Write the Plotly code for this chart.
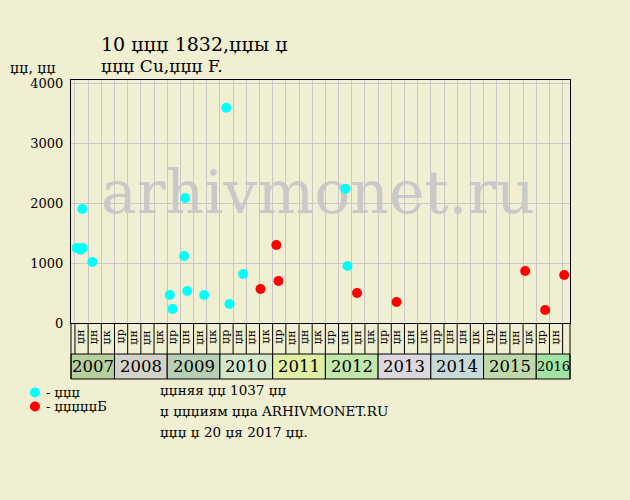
import plotly.graph_objects as go

# ---------------- data ----------------
title_line1 = "10 џџџ 1832,џџы џ"
title_line2 = "џџџ Cu,џџџ F."
y_title = "џџ, џџ"
years = ["2007", "2008", "2009", "2010", "2011", "2012", "2013", "2014", "2015", "2016"]
year_colors = ["#b6cf9c", "#d2d2ca", "#b7cfb3", "#d3e8cb", "#e0efa3", "#c2e7ab",
               "#dcd8e0", "#c8d9d9", "#bfd9ab", "#a2e2a2"]
quarter_names = ["џр", "џн", "џн", "џк"]
# quarters present: 2007 Q2 .. 2016 Q2
first_q = (2007, 2)
last_q = (2016, 2)

cyan_year = [2007.28, 2007.40, 2007.36, 2007.39, 2007.58, 2009.05, 2009.10, 2009.32,
             2009.34, 2009.38, 2009.70, 2010.12, 2010.18, 2010.44, 2012.38, 2012.42]
cyan_price = [1250, 1250, 1220, 1900, 1017, 467, 233, 1117,
              2083, 533, 467, 3588, 317, 817, 2238, 950]
red_year = [2010.77, 2011.07, 2011.11, 2012.60, 2013.35, 2015.79, 2016.17, 2016.53]
red_price = [567, 1300, 700, 500, 350, 867, 217, 800]

legend_cyan = "- џџџ"
legend_red = "- џџџџџБ"
info_lines = ["џџняя џџ 1037 џџ", "џ џџџиям џџа ARHIVMONET.RU", "џџџ џ 20 џя 2017 џџ."]
watermark = "arhivmonet.ru"

# ---------------- layout geometry ----------------
W, H = 630, 500
L, R, T, B = 71, 570, 80, 323
pw, ph = R - L, B - T
BG = "#f0efd1"
GRID = "#c8c8c8"
FONT = "DejaVu Serif"

q0 = first_q[0] + (first_q[1] - 1) / 4.0
qlist = []
y_, q_ = first_q
while (y_, q_) <= last_q:
    qlist.append((y_, q_))
    q_ += 1
    if q_ > 4:
        q_ = 1
        y_ += 1
nq = len(qlist)
xmin = q0 - 0.075
xmax = q0 + nq / 4.0 + 0.14
ymax = 4050


def px(x):
    return (x - L) / pw


def py(y):
    return (B - y) / ph


def xdata_to_paper(x):
    return (x - xmin) / (xmax - xmin)


fig = go.Figure()

# watermark (drawn below the points)
fig.add_trace(go.Scatter(
    x=[xmin + (318 - L) / pw * (xmax - xmin)], y=[2090], mode="text",
    text=[watermark], textfont=dict(family=FONT, size=60, color="#c9c9c9"),
    hoverinfo="skip", showlegend=False))

fig.add_trace(go.Scatter(x=cyan_year, y=cyan_price, mode="markers",
                         marker=dict(color="#00ffff", size=10), showlegend=False))
fig.add_trace(go.Scatter(x=red_year, y=red_price, mode="markers",
                         marker=dict(color="#ff0000", size=10), showlegend=False))

shapes = []
annotations = []


def ann(x, y, text, size, xanchor="center", yanchor="middle", angle=0):
    annotations.append(dict(x=x, y=y, xref="paper", yref="paper", text=text,
                            showarrow=False, xanchor=xanchor, yanchor=yanchor,
                            textangle=angle, borderpad=0,
                            font=dict(family=FONT, size=size, color="black")))


# quarter separators and labels
lab_top, lab_bot = py(323), py(354)
box_top, box_bot = py(354), py(379)
for i in range(nq + 1):
    xp = xdata_to_paper(q0 + i / 4.0)
    shapes.append(dict(type="line", xref="paper", yref="paper", x0=xp, x1=xp,
                       y0=lab_top, y1=lab_bot, line=dict(color="black", width=1)))
for i, (yy, qq) in enumerate(qlist):
    xc = q0 + (i + 0.5) / 4.0
    ann(xdata_to_paper(xc) - 1.5 / pw, py(337), quarter_names[qq - 1], 11, angle=-90)
# outer lines of the label area
for xx in (0, 1):
    shapes.append(dict(type="line", xref="paper", yref="paper", x0=xx, x1=xx,
                       y0=0, y1=box_bot, line=dict(color="black", width=1)))

# year boxes
for k, yr in enumerate(years):
    y_int = int(yr)
    x0 = xmin if k == 0 else float(y_int)
    x1 = xmax if k == len(years) - 1 else float(y_int + 1)
    shapes.append(dict(type="rect", xref="paper", yref="paper",
                       x0=xdata_to_paper(x0), x1=xdata_to_paper(x1), y0=box_bot, y1=box_top,
                       fillcolor=year_colors[k], line=dict(color="black", width=1), layer="below"))
    ann((xdata_to_paper(x0) + xdata_to_paper(x1)) / 2, (box_top + box_bot) / 2, yr,
        13 if k == len(years) - 1 else 16.5)

# titles
ann(px(100), py(44), title_line1, 19, xanchor="left")
ann(px(100), py(66), title_line2, 17, xanchor="left")
ann(px(9), py(68), y_title, 14, xanchor="left")

# legend
for cy, col, txt in ((392.5, "#00ffff", legend_cyan), (406.5, "#ff0000", legend_red)):
    shapes.append(dict(type="circle", xref="paper", yref="paper",
                       x0=px(30), x1=px(40), y0=py(cy - 5), y1=py(cy + 5),
                       fillcolor=col, line=dict(width=0)))
    ann(px(45), py(cy), txt, 13, xanchor="left")
for j, line in enumerate(info_lines):
    ann(px(159), py(390 + 21 * j), line, 13.5, xanchor="left")

grid_x = [q0 + i / 4.0 for i in range(nq + 1)]

fig.update_layout(
    width=W, height=H,
    margin=dict(l=L, r=W - R, t=T, b=H - B, pad=0),
    paper_bgcolor=BG, plot_bgcolor=BG,
    shapes=shapes, annotations=annotations,
    showlegend=False,
    xaxis=dict(range=[xmin, xmax], tickvals=grid_x, showticklabels=False, ticks="",
               showgrid=True, gridcolor=GRID, gridwidth=1, zeroline=False,
               showline=True, linecolor="black", linewidth=1, mirror=True, fixedrange=True),
    yaxis=dict(range=[0, ymax], tickvals=[0, 1000, 2000, 3000, 4000], ticks="",
               showgrid=True, gridcolor=GRID, gridwidth=1, zeroline=False,
               showline=True, linecolor="black", linewidth=1, mirror=True,
               tickfont=dict(family=FONT, size=13, color="black"), ticklabelstandoff=4,
               fixedrange=True),
)

fig.write_html("out.html", config={"displayModeBar": False},
               post_script="document.body.style.margin='0';document.body.style.background='%s';" % BG)
